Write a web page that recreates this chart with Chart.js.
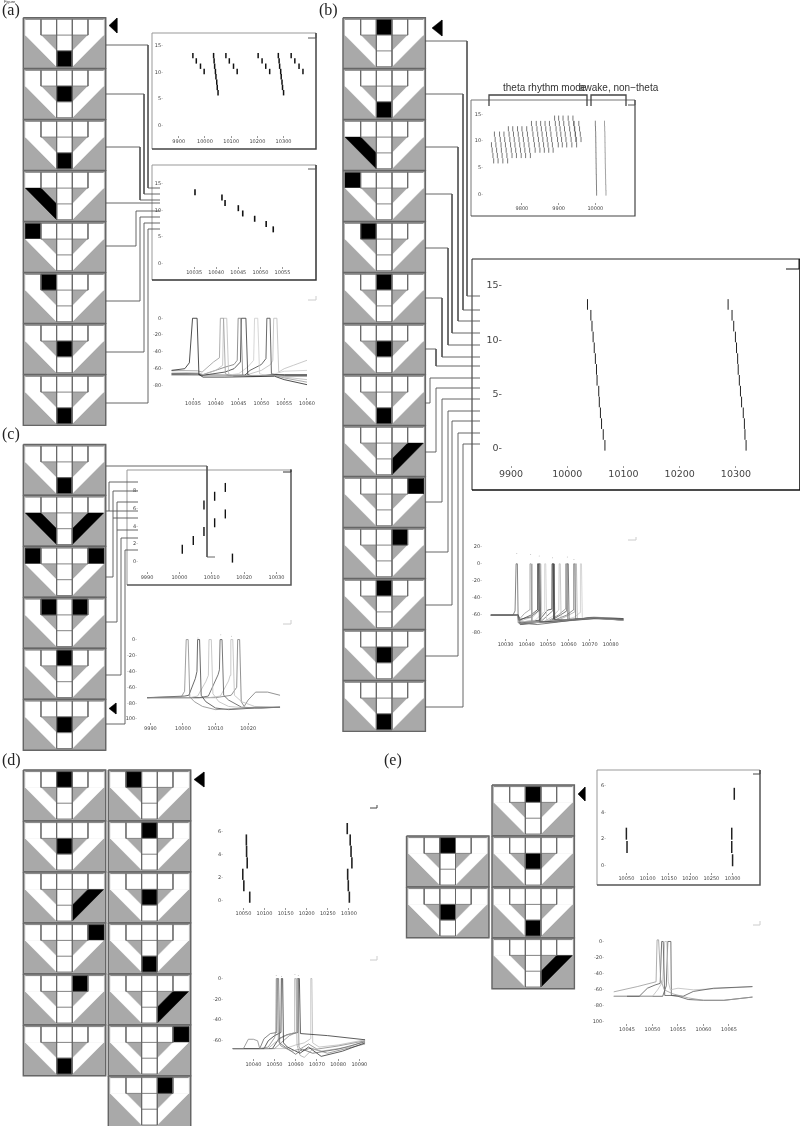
<!DOCTYPE html>
<html>
<head>
<meta charset="utf-8">
<title>Network sweeps</title>
<script src="https://cdn.jsdelivr.net/npm/chart.js@4/dist/chart.umd.min.js"></script>
<style>
  html, body { margin: 0; padding: 0; background: #fff; }
  #page { position: relative; width: 800px; height: 1126px; overflow: hidden; }
  #page canvas { position: absolute; }
  .tag { position: absolute; font-family: "Liberation Serif", serif; font-size: 16px; color: #222; line-height: 16px; }
  .note { position: absolute; font-family: "Liberation Sans", sans-serif; font-size: 10px; color: #333; line-height: 12px; white-space: nowrap; }
</style>
</head>
<body>
<div id="page">
  <canvas id="base" width="800" height="1126" style="left:0;top:0"></canvas>
  <div class="tag" style="left:2px;top:2px">(a)</div>
  <div class="note" style="left:4px;top:0;font-size:4px;line-height:4px">Figure</div>
  <div class="tag" style="left:319px;top:2px">(b)</div>
  <div class="tag" style="left:2px;top:426px">(c)</div>
  <div class="tag" style="left:2px;top:752px">(d)</div>
  <div class="tag" style="left:384px;top:752px">(e)</div>
  <div class="note" style="left:503px;top:82px">theta rhythm mode</div>
  <div class="note" style="left:579px;top:82px">awake, non&#8722;theta</div>
</div>
<script>
//Which cells are black in each tile, top to bottom
var panelAActive = [['bottom'], ['mid'], ['bottom'], ['diagL'], ['top0'], ['top1'], ['mid'], ['bottom']];
var panelBActive = [['top2'], ['bottom'], ['diagL'], ['top0'], ['top1'], ['top2'], ['mid'], ['bottom'],
                    ['diagR'], ['top4'], ['top3'], ['top2'], ['mid'], ['bottom']];
var panelCActive = [['bottom'], ['diagL', 'diagR'], ['top0', 'top4'], ['top1', 'top3'], ['top2'], ['mid']];
var panelD1Active = [['top2'], ['mid'], ['diagR'], ['top4'], ['top3'], ['bottom']];
var panelD2Active = [['top1'], ['top2'], ['mid'], ['bottom'], ['diagR'], ['top4'], ['top3']];
var panelE1Active = [['top2'], ['mid']];
var panelE2Active = [['top2'], ['mid'], ['bottom'], ['diagR']];

//Panel a, slow raster
var ticksA1X = [9900, 10000, 10100, 10200, 10300];
var ticksA1Y = [0, 5, 10, 15];
var spikesA1Times = [9954, 9967, 9983, 9997,
  10033, 10035, 10037, 10040, 10042, 10045, 10047, 10050,
  10080, 10093, 10109, 10123, 10203, 10218, 10232, 10247,
  10280, 10283, 10285, 10289, 10291, 10294, 10296, 10300,
  10329, 10343, 10359, 10374];
var spikesA1Rows = [13, 12, 11, 10,
  13, 12, 11, 10, 9, 8, 7, 6,
  13, 12, 11, 10, 13, 12, 11, 10,
  13, 12, 11, 10, 9, 8, 7, 6,
  13, 12, 11, 10];

//Panel a, fast raster
var ticksA2X = [10035, 10040, 10045, 10050, 10055];
var spikesA2Times = [10035.2, 10041.3, 10042, 10045, 10046, 10048.7, 10051.3, 10052.9];
var spikesA2Rows = [13, 12, 11, 10, 9, 8, 7, 6];

//Panel a, voltage. Pairs are [time - 10000, mV]
var ticksA3X = [10035, 10040, 10045, 10050, 10055, 10060];
var ticksA3Y = [-80, -60, -40, -20, 0];
var tracesA = [
  [[30.3,-62],[33.2,-60],[34.2,-53],[34.9,0],[35.9,0],[36.3,-67],[37.2,-70],[42,-70],[52.9,-69],[55,-73],[60,-79]],
  [[30.3,-62],[36,-62.5],[37,-64],[39.5,-52],[40.8,-47],[41,0],[41.7,0],[42.1,-66],[43,-68],[52.9,-68],[55,-71],[60,-76]],
  [[30.3,-64],[36.3,-65],[37.2,-67],[40,-62],[41.5,-56],[41.7,0],[42.4,0],[42.8,-66],[44,-69],[53,-68],[55,-70],[60,-73]],
  [[30.3,-66],[36.3,-66],[37.2,-67],[42.1,-58],[44,-55],[44.7,-50],[44.9,0],[45.5,0],[45.9,-68],[47,-69],[53,-68],[55,-69],[60,-69]],
  [[30.3,-66],[36,-66],[37,-68],[42,-64],[44,-60],[45.4,-52],[45.6,0],[46.6,0],[47,-67],[48,-69],[53,-67],[55,-68],[60,-68]],
  [[30.3,-68],[36.3,-68],[42,-68],[45,-66],[47,-58],[48.3,-50],[48.5,0],[49.2,0],[49.6,-66],[51,-68],[53,-66],[55,-63],[60,-62]],
  [[30.3,-67],[42,-68],[46.3,-68],[47.5,-62],[50,-55],[51,-48],[51.2,0],[51.9,0],[52.2,-66],[53,-67],[55,-67],[60,-67]],
  [[30.3,-68],[42,-67],[47,-67],[50,-62],[52,-55],[52.5,-50],[52.7,0],[53.4,0],[53.8,-64],[55,-60],[57,-56],[60,-50]]
];
var tracesAColors = ['#222', '#999', '#bbb', '#777', '#333', '#ccc', '#444', '#bbb'];

//Panel b, theta raster
var ticksB1X = [9800, 9900, 10000];
var thetaSweepTopRows = [11, 11, 11, 11, 12, 12, 12, 12, 12, 13, 13, 13, 13, 13, 14, 14, 14, 14, 14, 13, 13];
var thetaSweepTimes = [
  [9713, 9715, 9717, 9719, 9721, 9723], [9725, 9727, 9729, 9731, 9733, 9735],
  [9739, 9741, 9743, 9744, 9746, 9748], [9751, 9753, 9755, 9757, 9759, 9761],
  [9763, 9765, 9767, 9769, 9771, 9773], [9775, 9777, 9779, 9781, 9783, 9785],
  [9788, 9790, 9792, 9794, 9796, 9798], [9800, 9802, 9804, 9806, 9808, 9810],
  [9813, 9815, 9817, 9819, 9821, 9823], [9826, 9828, 9830, 9832, 9834, 9836],
  [9839, 9841, 9843, 9845, 9847, 9849], [9851, 9853, 9855, 9857, 9859, 9861],
  [9863, 9865, 9867, 9869, 9871, 9873], [9875, 9877, 9879, 9881, 9883, 9885],
  [9889, 9891, 9893, 9895, 9897, 9899], [9900, 9902, 9904, 9906, 9908, 9910],
  [9912, 9914, 9916, 9918, 9920, 9922], [9926, 9928, 9930, 9932, 9934, 9936],
  [9939, 9941, 9943, 9945, 9947, 9949], [9942, 9944, 9946, 9948],
  [9955, 9957, 9959, 9961]
];
var awakeRows = [13, 12, 11, 10, 9, 8, 7, 6, 5, 4, 3, 2, 1, 0];
var awakeSmallFirst = [10000, 10000.5, 10001, 10001.2, 10001.4, 10001.6, 10001.8, 10002, 10002.2, 10002.4, 10002.7, 10003, 10003.2, 10003.5];
var awakeSmallSecond = [10025, 10025.5, 10026, 10026.2, 10026.4, 10026.6, 10026.9, 10027, 10027.3, 10027.6, 10027.9, 10028.2, 10028.6, 10029];

//Panel b, enlarged raster
var ticksB2X = [9900, 10000, 10100, 10200, 10300];
var awakeBigFirst = [10036, 10042, 10044, 10046, 10048, 10050, 10052, 10053, 10056, 10057, 10059, 10061, 10064, 10067];
var awakeBigSecond = [10286, 10293, 10296, 10299, 10301, 10303, 10304, 10306, 10308, 10310, 10313, 10315, 10316, 10318];

//Panel b, voltage
var ticksB3X = [10030, 10040, 10050, 10060, 10070, 10080];
var ticksB3Y = [-80, -60, -40, -20, 0, 20];
var tracesB = [
  [[23,-60],[33.5,-60],[34.5,-55],[35,0],[35.6,0],[36,-69],[45,-71],[55,-68],[70,-63],[86,-65]],
  [[23,-60],[35.5,-60],[36.1,-66],[39,-58],[41.3,-54],[41.6,0],[42.1,0],[42.5,-67],[50,-69],[60,-66],[72,-63],[86,-66]],
  [[23,-60],[36,-60],[36.6,-66],[42,-60],[45,-54],[45.2,0],[45.7,0],[46.1,-68],[52,-68],[62,-66],[72,-64],[86,-65]],
  [[23,-60],[36,-60],[36.6,-65],[42,-62],[45.6,-55],[45.8,0],[46.3,0],[46.7,-68],[53,-67],[62,-65],[73,-63],[86,-64]],
  [[23,-60],[36,-60],[36.7,-67],[43,-62],[46.1,-54],[46.3,0],[46.8,0],[47.2,-67],[54,-68],[63,-66],[74,-64],[86,-66]],
  [[23,-60],[36,-60],[37,-68],[44,-66],[48.4,-56],[48.6,0],[49.1,0],[49.5,-66],[55,-66],[64,-65],[72,-64],[86,-65]],
  [[23,-60],[36,-60],[37,-68],[46,-66],[50,-54],[52,-53],[52.1,0],[52.6,0],[53,-65],[60,-66],[70,-63],[86,-66]],
  [[23,-60],[36,-60],[37,-69],[47,-67],[51,-58],[52.4,-55],[52.5,0],[53,0],[53.4,-66],[60,-65],[71,-64],[86,-64]],
  [[23,-60],[36,-60],[37,-70],[48,-68],[52,-62],[55.3,-54],[55.5,0],[56,0],[56.4,-66],[63,-65],[72,-62],[86,-65]],
  [[23,-60],[36,-60],[37,-70],[50,-67],[55,-60],[58.4,-53],[58.6,0],[59.1,0],[59.5,-66],[66,-65],[73,-63],[86,-64]],
  [[23,-60],[36,-60],[37,-71],[51,-67],[56,-60],[59.1,-55],[59.3,0],[59.8,0],[60.2,-65],[66,-64],[74,-63],[86,-66]],
  [[23,-60],[36,-60],[37,-71],[53,-66],[59,-60],[62.2,-54],[62.4,0],[62.9,0],[63.3,-65],[68,-64],[75,-64],[86,-65]],
  [[23,-60],[36,-60],[37,-70],[55,-66],[60,-60],[63,-56],[63.2,0],[63.7,0],[64.1,-65],[69,-64],[76,-63],[86,-64]],
  [[23,-60],[36,-60],[37,-70],[58,-66],[63,-62],[65.4,-57],[65.6,0],[66.1,0],[66.5,-64],[70,-64],[77,-64],[86,-65]]
];
var tracesBColors = ['#666', '#999', '#444', '#555', '#bbb', '#ccc', '#444', '#666', '#bbb', '#888', '#555', '#777', '#aaa', '#ccc'];
var peakDotsBTimes = [10035.3, 10041.9, 10046, 10052.3, 10059.4, 10062.5];
var peakDotsBVolts = [12, 11, 9, 7, 8, 5];

//Panel c, raster
var ticksC1X = [9990, 10000, 10010, 10020, 10030];
var ticksC1Y = [0, 2, 4, 6, 8];
var spikesCTimes = [10016.4, 10000.9, 10004.3, 10007.6, 10010.9, 10014.2, 10007.6, 10010.9, 10014.2];
var spikesCRows = [0, 1, 2, 3, 4, 5, 6, 7, 8];

//Panel c, voltage
var ticksC2X = [9990, 10000, 10010, 10020];
var ticksC2Y = [-100, -80, -60, -40, -20, 0];
var tracesC = [
  [[-11,-73],[-0.5,-72],[0.5,-65],[1,0],[1.6,0],[2.1,-72],[3.5,-78],[6,-84],[10,-88],[15,-87],[22,-85],[29.8,-85]],
  [[-11,-73],[0.5,-71],[1.8,-70],[3.8,-49],[4.3,-40],[4.5,0],[5.1,0],[5.6,-70],[7,-78],[10,-86],[14,-88],[22,-86],[29.8,-85]],
  [[-11,-73],[2,-73],[4.5,-71],[7,-53],[7.8,-45],[8,0],[8.7,0],[9.2,-68],[11,-78],[14,-84],[20,-86],[29.8,-85]],
  [[-11,-73],[5,-73],[7.8,-71],[10.8,-44],[11.2,-38],[11.4,0],[12,0],[12.5,-70],[14,-76],[18,-85],[24,-86],[29.8,-85]],
  [[-11,-73],[8,-73],[11.5,-71],[14,-52],[14.5,-45],[14.7,0],[15.3,0],[15.8,-70],[18,-78],[22,-84],[29.8,-85]],
  [[-11,-73],[10,-73],[14.8,-70],[16.5,-60],[16.8,0],[17.4,0],[17.9,-78],[18.8,-84],[20,-76],[22.3,-66],[26,-66],[29.8,-70]]
];
var tracesCColors = ['#888', '#444', '#bbb', '#555', '#bbb', '#777'];
var peakDotsCTimes = [10004.6, 10011.6, 10014.9];
var peakDotsCVolts = [2, 6, 4];

//Panel d, raster
var ticksD1X = [10050, 10100, 10150, 10200, 10250, 10300];
var ticksD1Y = [0, 2, 4, 6];
var spikesD1Times = [10065, 10051, 10048.5, 10059, 10057.5, 10057, 10301, 10298.5, 10297, 10307, 10305, 10303, 10296];
var spikesD1Rows = [0, 1, 2, 3, 4, 5, 0, 1, 2, 3, 4, 5, 6];

//Panel d, voltage
var ticksD2X = [10040, 10050, 10060, 10070, 10080, 10090];
var ticksD2Y = [-60, -40, -20, 0];
var tracesD = [
  [[30.3,-67.5],[35.3,-67.5],[37.6,-58.5],[40,-58.5],[42,-60],[43,-67.5],[47,-66],[50,-57],[50.6,-50],[50.8,0],[51.3,0],[51.8,-60],[53,-65],[58,-70],[62,-68],[66,-63],[70,-68],[80,-65],[92.7,-60]],
  [[30.3,-67.5],[43,-67.5],[45,-58],[48,-53],[51,-52],[51.2,0],[51.9,0],[52.4,-62],[55,-66],[60,-73],[63,-68],[68,-72],[80,-68],[92.7,-61]],
  [[30.3,-67.5],[45,-67.5],[47,-60],[50,-55],[53,-52],[53.2,0],[53.8,0],[54.2,-62],[56,-66],[62,-72],[66,-66],[72,-75],[82,-70],[92.7,-62]],
  [[30.3,-67.5],[47,-67.5],[50,-62],[54,-56],[59.3,-52],[59.5,0],[60.1,0],[60.6,-64],[62,-74],[64,-76],[68,-68],[72,-70],[85,-66],[92.7,-60]],
  [[30.3,-67.5],[50,-67.5],[53,-62],[57,-55],[60.3,-52],[60.5,0],[61,0],[61.5,-66],[63,-70],[67,-67],[75,-72],[92.7,-63]],
  [[30.3,-67.5],[49,-67.5],[52,-58],[56,-54],[61,-52],[61.2,0],[61.7,0],[62.2,-53],[75,-55],[92.7,-59]],
  [[30.3,-67.5],[55,-67.5],[60,-64],[64,-62],[67,-58],[67.1,0],[67.6,0],[68,-62],[71,-66],[80,-64],[92.7,-59]]
];
var tracesDColors = ['#888', '#666', '#333', '#aaa', '#888', '#333', '#bbb'];
var peakDotsDTimes = [10050.8, 10053.3, 10059.6, 10061.2, 10067.3];
var peakDotsDVolts = [3, 2, 4, 3, 0];

//Panel e, raster
var ticksE1X = [10050, 10100, 10150, 10200, 10250, 10300];
var spikesE1Times = [10050, 10051.5, 10298, 10298, 10300, 10304];
var spikesE1Rows = [2, 1, 2, 1, 0, 5];

//Panel e, voltage
var ticksE2X = [10045, 10050, 10055, 10060, 10065];
var ticksE2Y = [-100, -80, -60, -40, -20, 0];
var tracesE = [
  [[42.4,-62.5],[47,-56],[50.7,-50],[50.9,2],[51.2,2],[51.6,-47],[52.3,-60],[54,-65],[57,-70],[60,-73],[64,-73],[69.6,-69]],
  [[45,-68],[47.4,-68],[49,-58],[50.5,-54],[51.5,-52],[51.8,0],[52.1,0],[52.4,-67],[54,-67],[56,-68],[58,-62],[62,-58],[69.6,-56]],
  [[42.4,-68],[50,-68],[51,-60],[52,-50],[52.4,0],[52.8,0],[53.1,-50],[53.5,-60],[55,-58],[58,-60],[69.6,-56]],
  [[42.4,-68],[52,-68],[52.7,-55],[53,0],[53.6,0],[53.7,-67],[55,-68],[57,-72],[60,-73],[64,-73],[69.6,-69]]
];
var tracesEColors = ['#999', '#555', '#bbb', '#555'];

//Layout of the drawing, in page pixels
var cellW = 15.67, cellH = 15.8, tileW = 82.4, tileH = 50.7, tilePitch = 51;
var tileColumns = [
  { x: 23.3, y: 17.7, active: panelAActive },
  { x: 343, y: 17.7, active: panelBActive },
  { x: 23.3, y: 444.5, active: panelCActive },
  { x: 23.3, y: 770, active: panelD1Active },
  { x: 108.3, y: 770, active: panelD2Active },
  { x: 406.5, y: 836, active: panelE1Active },
  { x: 492, y: 785, active: panelE2Active }
];
var cellShapes = {
  top0: [[0,0],[1,0],[1,1],[0,1]], top1: [[1,0],[2,0],[2,1],[1,1]], top2: [[2,0],[3,0],[3,1],[2,1]],
  top3: [[3,0],[4,0],[4,1],[3,1]], top4: [[4,0],[5,0],[5,1],[4,1]],
  mid: [[2,1],[3,1],[3,2],[2,2]], bottom: [[2,2],[3,2],[3,3],[2,3]],
  diagL: [[0,1],[1,1],[2,2],[2,3]], diagR: [[5,1],[4,1],[3,2],[3,3]]
};
var cellLines = [
  [[1,0],[1,1]], [[2,0],[2,3]], [[3,0],[3,3]], [[4,0],[4,1]], [[1,1],[4,1]], [[2,2],[3,2]],
  [[0,0],[5,0]], [[2,3],[3,3]]
];

var connectors = [
  [[106,45],[148,45],[148,188],[160,188]], [[106,94],[144,94],[144,194],[160,194]],
  [[106,147],[140,147],[140,200],[160,200]], [[106,203],[160,203]],
  [[106,246],[136,246],[136,211],[160,211]], [[106,301],[140,301],[140,217],[160,217]],
  [[106,352],[144,352],[144,223],[160,223]], [[106,403],[148,403],[148,229],[160,229]],
  [[425,41],[467,41],[467,296],[480,296]], [[425,94],[463,94],[463,310],[480,310]],
  [[425,147],[458,147],[458,321],[480,321]], [[425,194],[452,194],[452,333],[480,333]],
  [[425,248],[448,248],[448,345],[480,345]], [[425,298],[442,298],[442,357],[480,357]],
  [[425,349],[436,349],[436,366],[480,366]], [[425,403],[430,403],[430,378],[480,378]],
  [[425,452],[436,452],[436,388],[480,388]], [[425,502],[442,502],[442,399],[480,399]],
  [[425,552],[448,552],[448,411],[480,411]], [[425,605],[452,605],[452,421],[480,421]],
  [[425,656],[458,656],[458,433],[480,433]], [[425,707],[463,707],[463,444],[480,444]],
  [[106,466],[207,466],[207,557],[215,557]], [[106,511],[138,511]],
  [[109,511],[109,482],[138,482]], [[106,577],[113,577],[113,491],[138,491]],
  [[113,518],[138,518]], [[106,622],[117,622],[117,502],[138,502]], [[117,530],[138,530]],
  [[106,675],[121,675],[121,538],[138,538]], [[106,724],[125,724],[125,550],[138,550]]
];
var brackets = [
  [[489,106],[489,95],[587,95],[587,106]],
  [[591,106],[591,95],[626,95],[626,106]]
];
var arrowHeads = [
  [[109,25.5],[117,18],[117,33]], [[432,28],[442,20],[442,36]], [[109,708.5],[116,703],[116,714]],
  [[194,779.5],[204,772],[204,787]], [[578,794],[585,787],[585,801]]
];
//left, top, right, bottom, light edge, dark edge, dark width
var frames = [
  [152, 33, 316, 149, '#999', '#444', 1.5], [152, 165, 316, 280, '#999', '#333', 1.5],
  [471, 100, 635, 216, '#777', '#444', 1.2], [472, 259, 800, 490, '#222', '#111', 1.6],
  [127, 470, 291, 585, '#999', '#555', 1.5], [597, 770, 760, 885, '#999', '#555', 1.5]
];
//corner marks: horizontal from x0 to x1 at y, then vertical up to yTop
var cornerMarks = [
  [308, 316, 38, 33, '#555'], [308, 316, 169, 165, '#555'], [308, 316, 300, 296, '#ccc'],
  [628, 635, 105, 100, '#555'], [786, 799, 269, 259, '#111'], [628, 636, 540, 537, '#ccc'],
  [283, 291, 472, 469, '#333'], [283, 291, 624, 620, '#ccc'], [370, 377, 808, 805, '#444'],
  [370, 377, 960, 956, '#ccc'], [753, 760, 774, 770, '#444'], [753, 760, 925, 921, '#ccc']
];

function toPts(list) {
  return list.map(function(p) { return { x: p[0], y: p[1] }; });
}

function shapeSet(list, fillColor) {
  return { data: toPts(list.concat([list[0]])), showLine: true, fill: 'shape', backgroundColor: fillColor,
           borderColor: fillColor, borderWidth: 0.5, pointRadius: 0, clip: false };
}

function lineSet(list, color, width) {
  return { data: toPts(list), showLine: true, fill: false, borderColor: color, borderWidth: width,
           pointRadius: 0, clip: false };
}

//Base layer: tiles, connectors, frames. Drawn top first, so the list is reversed at the end
var baseSets = [];

tileColumns.forEach(function(col) {
  col.active.forEach(function(active, i) {
    var x0 = col.x, y0 = col.y + i * tilePitch;
    var ox = x0 + 2, oy = y0 + 1.6;
    var place = function(list) {
      return list.map(function(p) { return [ox + p[0] * cellW, oy + p[1] * cellH]; });
    };
    baseSets.push(shapeSet([[x0, y0], [x0 + tileW, y0], [x0 + tileW, y0 + tileH], [x0, y0 + tileH]], '#a9a9a9'));
    Object.keys(cellShapes).forEach(function(name) {
      baseSets.push(shapeSet(place(cellShapes[name]), active.indexOf(name) >= 0 ? '#000' : '#fff'));
    });
    cellLines.forEach(function(seg) {
      baseSets.push(lineSet(place(seg), '#666', 0.8));
    });
    baseSets.push(lineSet([[x0, y0], [x0 + tileW, y0], [x0 + tileW, y0 + tileH], [x0, y0 + tileH], [x0, y0]], '#666', 1.4));
  });
});

frames.forEach(function(f) {
  baseSets.push(lineSet([[f[0], f[3]], [f[0], f[1]], [f[2], f[1]]], f[4], 1));
  baseSets.push(lineSet([[f[0], f[3]], [f[2], f[3]], [f[2], f[1]]], f[5], f[6]));
});
cornerMarks.forEach(function(m) {
  baseSets.push(lineSet([[m[0], m[2]], [m[1], m[2]], [m[1], m[3]]], m[4], 1));
});
connectors.forEach(function(c) {
  baseSets.push(lineSet(c, '#555', 0.9));
});
brackets.forEach(function(b) {
  baseSets.push(lineSet(b, '#444', 1.3));
});
arrowHeads.forEach(function(a) {
  baseSets.push(shapeSet(a, '#000'));
});

new Chart(document.getElementById('base'), {
  type: 'scatter',
  data: { datasets: baseSets.reverse() },
  options: {
    responsive: false, animation: false, events: [],
    layout: { padding: 0 },
    plugins: { legend: { display: false }, tooltip: { enabled: false } },
    scales: {
      x: { type: 'linear', min: 0, max: 800, display: false },
      y: { type: 'linear', min: 0, max: 1126, reverse: true, display: false }
    }
  }
});

//Turn two readings of an axis into the value at a pixel
function valueAt(cal, px) {
  return cal[0] + (px - cal[1]) * (cal[2] - cal[0]) / (cal[3] - cal[1]);
}

function spikeSet(times, rows, rowShift, color, length, width) {
  return {
    data: times.map(function(t, i) { return { x: t, y: rows[i] + rowShift }; }),
    showLine: false, pointStyle: 'line', rotation: 90, radius: length, pointBorderColor: color,
    borderColor: color, pointBorderWidth: width, borderWidth: width, clip: false
  };
}

function traceSets(traces, colors) {
  return traces.map(function(tr, i) {
    return {
      data: tr.map(function(p) { return { x: 10000 + p[0], y: p[1] }; }),
      showLine: true, borderColor: colors[i], borderWidth: 0.8, pointRadius: 0, fill: false, clip: false
    };
  });
}

function dotSet(times, volts) {
  return {
    data: times.map(function(t, i) { return { x: t, y: volts[i] }; }),
    showLine: false, pointRadius: 0.5, pointBackgroundColor: '#bbb', pointBorderWidth: 0, clip: false
  };
}

function addPlot(cfg) {
  var fontPx = cfg.font || 5;
  var gap = fontPx > 6 ? 9 : 5.5;
  var yW = cfg.yW || 20, xH = fontPx > 6 ? 18 : 10;
  var B = cfg.labelY - gap;
  var canvas = document.createElement('canvas');
  canvas.width = Math.round(cfg.R - cfg.L + yW);
  canvas.height = Math.round(B - cfg.T + xH);
  canvas.style.left = (cfg.L - yW) + 'px';
  canvas.style.top = cfg.T + 'px';
  document.getElementById('page').appendChild(canvas);

  var tickFont = { family: '"DejaVu Sans"', size: fontPx };
  new Chart(canvas, {
    type: 'scatter',
    data: { datasets: cfg.sets },
    options: {
      responsive: false, animation: false, events: [],
      layout: { padding: 0 },
      plugins: { legend: { display: false }, tooltip: { enabled: false } },
      scales: {
        x: {
          type: 'linear', min: valueAt(cfg.xCal, cfg.L), max: valueAt(cfg.xCal, canvas.width + cfg.L - yW),
          border: { display: false },
          grid: { drawOnChartArea: false, drawTicks: true, tickLength: 2, color: '#999' },
          afterBuildTicks: function(scale) { scale.ticks = cfg.xTicks.map(function(v) { return { value: v }; }); },
          afterFit: function(scale) { scale.height = xH; },
          ticks: {
            autoSkip: false, maxRotation: 0, padding: 1, color: '#444', font: tickFont,
            callback: function(v) { return String(v); }
          }
        },
        y: {
          type: 'linear', min: valueAt(cfg.yCal, canvas.height + cfg.T - xH), max: valueAt(cfg.yCal, cfg.T),
          border: { display: false },
          grid: { display: false },
          afterBuildTicks: function(scale) { scale.ticks = cfg.yTicks.map(function(v) { return { value: v }; }); },
          afterFit: function(scale) { scale.width = yW; },
          ticks: {
            autoSkip: false, padding: 1, color: '#444', font: tickFont,
            callback: function(v) { return v + '-'; }
          }
        }
      }
    }
  });
}

addPlot({ L: 172, T: 33, R: 316, labelY: 141, xCal: [9900, 179, 10300, 288], yCal: [0, 125, 15, 41],
  xTicks: ticksA1X, yTicks: ticksA1Y, sets: [spikeSet(spikesA1Times, spikesA1Rows, 0.2, '#111', 2.7, 1.5)] });
addPlot({ L: 172, T: 165, R: 316, labelY: 272, xCal: [10035, 195, 10055, 287], yCal: [0, 263, 15, 179],
  xTicks: ticksA2X, yTicks: ticksA1Y, sets: [spikeSet(spikesA2Times, spikesA2Rows, 0.4, '#111', 3, 1.6)] });
addPlot({ L: 172, T: 296, R: 320, labelY: 403, xCal: [10035, 193, 10060, 307], yCal: [-80, 385, 0, 315],
  xTicks: ticksA3X, yTicks: ticksA3Y, sets: traceSets(tracesA, tracesAColors) });

var thetaSets = thetaSweepTimes.map(function(times, i) {
  var rows = times.map(function(t, k) { return thetaSweepTopRows[i] - k; });
  return spikeSet(times, rows, 0.3, '#555', 2.6, 0.8);
});
thetaSets.push(spikeSet(awakeSmallFirst, awakeRows, 0.3, '#777', 2.8, 0.9));
thetaSets.push(spikeSet(awakeSmallSecond, awakeRows, 0.3, '#999', 2.8, 0.9));
addPlot({ L: 492, T: 100, R: 635, labelY: 208, xCal: [9800, 523, 10000, 599], yCal: [0, 194, 15, 110],
  xTicks: ticksB1X, yTicks: ticksA1Y, sets: thetaSets });

addPlot({ L: 511, T: 259, R: 799, labelY: 475, font: 9.5, yW: 30, xCal: [9900, 511, 10300, 741], yCal: [0, 448, 15, 280],
  xTicks: ticksB2X, yTicks: ticksA1Y, sets: [
    spikeSet(awakeBigFirst, awakeRows, 0.3, '#222', 5.3, 1),
    spikeSet(awakeBigSecond, awakeRows, 0.3, '#222', 5.3, 1)
  ] });

addPlot({ L: 491, T: 535, R: 640, labelY: 644, xCal: [10030, 506, 10080, 614], yCal: [-80, 632, 20, 543],
  xTicks: ticksB3X, yTicks: ticksB3Y, sets: traceSets(tracesB, tracesBColors).concat([dotSet(peakDotsBTimes, peakDotsBVolts)]) });

addPlot({ L: 147, T: 470, R: 291, labelY: 577, xCal: [9990, 147, 10030, 282], yCal: [0, 561, 8, 486],
  xTicks: ticksC1X, yTicks: ticksC1Y, sets: [spikeSet(spikesCTimes, spikesCRows, 0.4, '#111', 4.5, 1.4)] });
addPlot({ L: 146, T: 625, R: 291, labelY: 728, xCal: [10000, 184, 10020, 251], yCal: [-100, 719, 0, 636],
  xTicks: ticksC2X, yTicks: ticksC2Y, sets: traceSets(tracesC, tracesCColors).concat([dotSet(peakDotsCTimes, peakDotsCVolts)]) });

addPlot({ L: 232, T: 810, R: 378, labelY: 913, xCal: [10050, 244, 10300, 355], yCal: [0, 900, 6, 826],
  xTicks: ticksD1X, yTicks: ticksD1Y, sets: [spikeSet(spikesD1Times, spikesD1Rows, 0.3, '#222', 5.6, 1.6)] });
addPlot({ L: 232, T: 965, R: 375, labelY: 1064, xCal: [10040, 254, 10090, 363], yCal: [-60, 1040, 0, 975],
  xTicks: ticksD2X, yTicks: ticksD2Y, sets: traceSets(tracesD, tracesDColors).concat([dotSet(peakDotsDTimes, peakDotsDVolts)]) });

addPlot({ L: 615, T: 770, R: 760, labelY: 878, xCal: [10050, 627, 10300, 739], yCal: [0, 865, 6, 779],
  xTicks: ticksE1X, yTicks: ticksD1Y, sets: [spikeSet(spikesE1Times, spikesE1Rows, 0.4, '#222', 6, 1.5)] });
addPlot({ L: 613, T: 925, R: 760, labelY: 1029, xCal: [10045, 627, 10065, 729], yCal: [-100, 1022, 0, 938],
  xTicks: ticksE2X, yTicks: ticksE2Y, sets: traceSets(tracesE, tracesEColors) });
</script>
</body>
</html>
